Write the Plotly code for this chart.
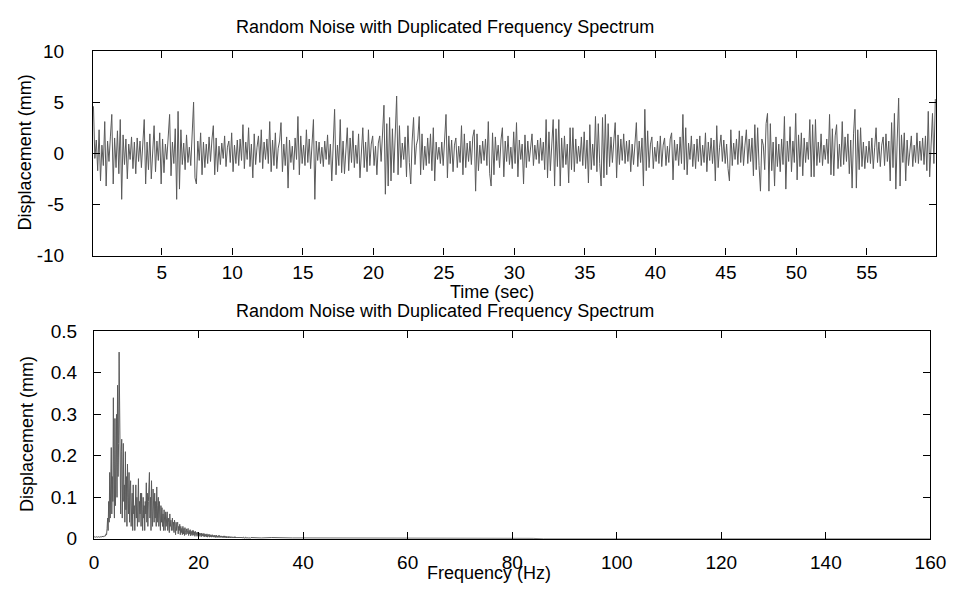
import numpy as np
import plotly.graph_objects as go

# ---------------- data ----------------
TITLE = "Random Noise with Duplicated Frequency Spectrum"

# time history: 10 samples per second starting at 0.15 s
T_START = 0.15
T_STEP = 0.1
DISPLACEMENT = [
    4.6, -0.5, 1.3, -1.7, 2.3, -2.7, 0.8, -1.2, 3.1, -3.2,
    1.2, -0.8, 1.6, 3.8, -3.0, 1.5, -1.4, 2.2, -2.0, 3.3,
    -4.5, 1.8, -1.1, 1.4, -2.5, 0.9, -0.6, 1.6, -1.5, 1.1,
    -2.0, 1.5, -0.8, 1.2, -1.4, 0.7, 3.3, -3.0, 1.1, -1.6,
    1.9, -2.5, 0.6, 2.7, -1.8, 1.2, -0.7, 2.0, -3.0, 1.4,
    -1.9, 0.9, -0.6, 1.4, 3.8, -2.2, 1.1, -1.0, 2.4, -4.5,
    4.1, -3.5, 2.3, -1.1, 1.0, -1.6, 1.8, -0.9, 0.6, -1.2,
    1.4, 5.0, -2.4, -3.0, 1.2, -0.7, 2.0, -2.1, 1.1, -1.4,
    0.9, -1.0, 1.6, -0.8, 1.3, 2.7, -2.1, 1.5, -1.8, 0.7,
    -1.1, 1.0, -0.5, 1.7, -1.3, 0.6, 1.2, -0.9, 2.0, -1.8,
    0.8, -1.0, 1.3, -1.2, 1.4, -0.7, 2.8, -1.5, 1.1, -0.6,
    2.5, -1.3, 0.9, -2.4, 1.9, -1.1, 0.6, 1.7, -0.9, 2.3,
    -1.5, 1.1, -0.6, 1.4, -1.0, 3.1, -1.8, 1.3, -1.2, 2.0,
    -1.5, 0.5, 1.2, 3.0, -1.8, 0.9, -1.2, 1.6, -3.4, 1.3,
    -0.9, 0.7, -1.6, 1.5, -0.6, 3.6, -2.1, 1.7, -1.0, 0.8,
    -1.2, 2.3, -0.9, 1.4, -1.5, 1.0, 3.3, -4.5, 1.2, -0.7,
    1.1, -1.0, 0.6, -1.3, 1.2, -0.6, 1.8, -1.1, 0.9, -2.7,
    1.4, 4.3, -2.1, 0.8, -1.2, 3.3, -1.9, 1.2, -2.0, 1.0,
    2.5, -1.7, 1.5, -0.9, 2.2, -1.4, 0.8, -1.0, 1.9, -2.4,
    0.6, 2.5, -1.4, 1.1, -1.8, 2.3, -1.2, 0.9, 1.7, -1.2,
    0.7, -2.1, 1.0, 1.7, -0.8, 1.5, 4.7, -4.0, 2.9, -3.2,
    3.5, -2.7, 2.4, -1.9, 1.3, 5.6, -2.1, 2.7, -1.4, 1.0,
    -0.6, 1.6, -2.3, 2.7, -0.9, -3.0, 1.2, 3.5, -1.1, 0.8,
    1.4, 3.6, -2.1, 1.9, -1.6, 0.7, -1.2, 1.5, -1.0, 1.9,
    -1.7, 2.5, -2.7, 1.1, -0.6, 0.6, -1.0, 1.1, -1.2, 0.9,
    3.8, -2.4, 1.7, -1.0, 1.3, -1.8, 0.8, 1.5, -1.4, 0.7,
    -0.9, 2.7, -2.1, 1.9, -1.4, 1.0, -0.8, 1.2, -1.1, 1.6,
    2.3, -3.7, 1.9, -1.7, 0.8, -1.0, 1.2, -0.7, 1.4, -1.2,
    3.1, -2.0, -3.2, 2.0, -2.1, 1.6, -0.7, 0.8, -1.4, 1.3,
    2.5, -2.3, 1.2, -0.8, 1.7, -1.1, 0.6, -1.5, 2.1, -1.0,
    3.0, -2.3, 1.3, -0.6, 0.9, -3.0, 1.8, -1.4, 1.2, -0.8,
    0.6, 1.9, -1.2, 0.8, -0.6, 1.3, -1.0, 1.5, -0.7, 1.1,
    -1.6, 3.3, -2.4, 2.1, -1.7, 1.0, 3.3, -3.2, 2.4, -1.3,
    3.3, -3.2, 1.5, -1.4, 1.7, -1.1, 0.9, -2.9, 2.5, -1.6,
    2.5, -1.8, 1.4, -1.0, 0.7, -0.8, 1.6, -1.2, 2.1, -1.5,
    1.3, -2.9, 2.8, -1.6, 0.9, -1.2, 3.6, -1.8, 2.9, -1.0,
    -3.2, 3.5, -2.4, 3.8, -2.1, 2.9, -1.3, 1.6, -0.9, 1.2,
    3.0, -2.4, 1.8, -1.1, 1.4, -0.7, 1.9, -1.0, 1.2, -0.8,
    1.3, -1.8, 0.9, -1.1, 1.6, 3.0, -1.3, 1.2, -0.9, 1.5,
    -3.2, 4.3, -1.7, 2.2, -1.4, 0.9, 1.6, -1.5, 0.6, -0.8,
    1.2, -1.0, 1.7, -1.3, 0.8, 1.5, -1.2, 0.7, -0.9, 1.4,
    2.0, -2.6, 1.3, -0.7, 0.9, -1.2, 1.6, -1.0, 3.8, -1.6,
    2.5, -2.1, 1.0, -0.6, 1.7, -1.3, 0.9, -1.5, 1.4, -0.8,
    1.7, -1.2, 0.8, -0.9, 2.0, -1.8, 1.1, -0.7, 1.5, -1.0,
    1.3, -2.7, 2.7, -1.4, 0.6, 1.8, -0.8, 1.3, -1.0, 0.9,
    -1.5, -2.7, 2.3, -1.2, 1.0, -0.6, 1.4, -1.1, 2.2, -0.9,
    1.7, -1.2, 0.8, 2.3, -1.0, 1.4, -0.8, 1.5, -2.2, 2.8,
    -1.6, 2.5, -1.2, -3.7, 1.4, 0.8, -1.6, 2.9, 3.9, -3.7,
    2.9, -1.7, 1.1, -3.2, 1.6, -1.3, 0.9, -1.8, 1.4, -1.1,
    3.6, -3.5, 1.2, -0.8, 2.6, -1.8, 1.2, -0.9, 3.9, -2.6,
    1.8, -1.3, 2.0, -2.2, 1.5, -0.9, 1.1, -0.6, 3.3, -2.3,
    2.8, -2.3, 3.3, -1.2, 1.1, -0.9, 1.9, -1.2, 0.8, -0.6,
    1.4, -1.0, 3.8, -2.1, 2.4, -2.2, 1.7, 2.8, -1.5, 0.9,
    -1.3, 3.1, -1.1, 1.6, -0.8, 1.9, -2.0, 1.3, -3.4, 1.9,
    4.3, -3.4, 2.3, -1.6, 2.5, -1.3, 1.1, -1.5, 0.7, -0.9,
    1.2, -1.0, 1.5, -1.5, 0.6, 2.5, -0.9, 1.1, -1.3, 0.8,
    1.6, -1.2, 1.9, -0.8, 1.2, -2.7, 3.0, -1.4, 3.9, -3.5,
    1.4, 5.4, -3.2, 1.8, -0.9, 2.0, -2.7, 1.3, -1.2, 0.7,
    1.7, -1.3, 0.8, -0.9, 2.0, -1.0, 1.2, -0.7, 1.5, -1.1,
    1.7, -1.7, 4.1, -2.3, 1.2, 3.9, -1.0, 5.3,
]

# spectrum: 0.1 Hz spacing from 0 to 29.9 Hz
F_STEP = 0.1
SPECTRUM = [
    0.005, 0.004, 0.005, 0.004, 0.005, 0.004, 0.005, 0.004, 0.005, 0.004,
    0.005, 0.004, 0.005, 0.005, 0.004, 0.006, 0.005, 0.006, 0.005, 0.007,
    0.006, 0.008, 0.007, 0.012, 0.010, 0.025, 0.050, 0.020, 0.090, 0.040,
    0.160, 0.050, 0.110, 0.220, 0.060, 0.150, 0.090, 0.340, 0.120, 0.050,
    0.290, 0.080, 0.180, 0.300, 0.100, 0.370, 0.150, 0.230, 0.450, 0.200,
    0.290, 0.060, 0.210, 0.240, 0.050, 0.170, 0.230, 0.090, 0.130, 0.040,
    0.210, 0.070, 0.150, 0.030, 0.180, 0.100, 0.060, 0.160, 0.040, 0.120,
    0.140, 0.030, 0.090, 0.110, 0.020, 0.130, 0.060, 0.080, 0.020, 0.120,
    0.130, 0.050, 0.100, 0.030, 0.120, 0.145, 0.040, 0.090, 0.060, 0.110,
    0.030, 0.110, 0.070, 0.020, 0.100, 0.050, 0.080, 0.020, 0.090, 0.060,
    0.135, 0.040, 0.110, 0.030, 0.090, 0.120, 0.160, 0.050, 0.100, 0.020,
    0.140, 0.060, 0.030, 0.120, 0.080, 0.040, 0.110, 0.050, 0.090, 0.030,
    0.125, 0.040, 0.080, 0.100, 0.030, 0.090, 0.050, 0.020, 0.080, 0.040,
    0.075, 0.030, 0.060, 0.020, 0.070, 0.040, 0.020, 0.065, 0.030, 0.050,
    0.065, 0.020, 0.050, 0.040, 0.015, 0.060, 0.030, 0.045, 0.020, 0.050,
    0.050, 0.020, 0.040, 0.015, 0.045, 0.030, 0.010, 0.040, 0.020, 0.035,
    0.040, 0.012, 0.030, 0.020, 0.035, 0.010, 0.030, 0.015, 0.025, 0.010,
    0.030, 0.012, 0.025, 0.008, 0.027, 0.015, 0.010, 0.024, 0.012, 0.020,
    0.025, 0.008, 0.020, 0.012, 0.022, 0.007, 0.018, 0.010, 0.020, 0.008,
    0.020, 0.009, 0.017, 0.006, 0.018, 0.010, 0.015, 0.006, 0.016, 0.008,
    0.016, 0.006, 0.014, 0.008, 0.013, 0.005, 0.014, 0.007, 0.012, 0.006,
    0.013, 0.005, 0.012, 0.006, 0.011, 0.005, 0.012, 0.004, 0.010, 0.006,
    0.011, 0.004, 0.010, 0.005, 0.009, 0.004, 0.010, 0.005, 0.008, 0.004,
    0.009, 0.004, 0.008, 0.003, 0.009, 0.004, 0.007, 0.003, 0.008, 0.004,
    0.008, 0.003, 0.007, 0.004, 0.007, 0.003, 0.006, 0.003, 0.007, 0.003,
    0.007, 0.003, 0.006, 0.002, 0.006, 0.003, 0.005, 0.002, 0.006, 0.003,
    0.005, 0.002, 0.005, 0.003, 0.005, 0.002, 0.004, 0.002, 0.005, 0.002,
    0.005, 0.002, 0.004, 0.002, 0.004, 0.002, 0.004, 0.002, 0.004, 0.002,
    0.004, 0.002, 0.004, 0.002, 0.003, 0.002, 0.004, 0.001, 0.003, 0.002,
    0.004, 0.001, 0.003, 0.002, 0.003, 0.001, 0.003, 0.002, 0.003, 0.001,
]
# tail of the spectrum, 2 Hz spacing from 30 to 160 Hz
TAIL_START = 30.0
TAIL_STEP = 2.0
SPECTRUM_TAIL = [
    0.003, 0.002, 0.003, 0.002, 0.002, 0.002, 0.002, 0.001, 0.002, 0.001,
    0.001, 0.001, 0.001, 0.001, 0.001, 0.001, 0.001, 0.001, 0.001, 0.001,
    0.001, 0.001, 0.001, 0.001, 0.001, 0.001, 0.001, 0.001, 0.000, 0.000,
    0.000, 0.000, 0.000, 0.000, 0.000, 0.000, 0.000, 0.000, 0.000, 0.000,
    0.000, 0.000, 0.000, 0.000, 0.000, 0.000, 0.000, 0.000, 0.000, 0.000,
    0.000, 0.000, 0.000, 0.000, 0.000, 0.000, 0.000, 0.000, 0.000, 0.000,
    0.000, 0.000, 0.000, 0.000, 0.000, 0.000,
]

TOP_X_TICKS = [5, 10, 15, 20, 25, 30, 35, 40, 45, 50, 55]
TOP_Y_TICKS = [-10, -5, 0, 5, 10]
BOT_X_TICKS = [0, 20, 40, 60, 80, 100, 120, 140, 160]
BOT_Y_TICKS = [0, 0.1, 0.2, 0.3, 0.4, 0.5]
BOT_Y_LABELS = ["0", "0.1", "0.2", "0.3", "0.4", "0.5"]

# ---------------- figure ----------------
W, H = 966, 600
FONT = "Liberation Sans, Arial, Helvetica, sans-serif"
FS = 18
TICK_FS = 19
LINE_COLOR = "#5a5a5a"

time = T_START + T_STEP * np.arange(len(DISPLACEMENT))
freq = F_STEP * np.arange(len(SPECTRUM))
freq_tail = TAIL_START + TAIL_STEP * np.arange(len(SPECTRUM_TAIL))
freq_all = np.concatenate([freq, freq_tail])
spec_all = list(SPECTRUM) + list(SPECTRUM_TAIL)

fig = go.Figure()
fig.add_trace(go.Scatter(x=time, y=DISPLACEMENT, mode="lines",
                         line=dict(color=LINE_COLOR, width=1),
                         xaxis="x", yaxis="y", showlegend=False))
fig.add_trace(go.Scatter(x=freq_all, y=spec_all, mode="lines",
                         line=dict(color=LINE_COLOR, width=1),
                         xaxis="x2", yaxis="y2", showlegend=False))


def px_x(p):
    return p / W


def px_y(p):
    return 1 - p / H


axis_common = dict(showline=True, linecolor="black", linewidth=1.2,
                   mirror="ticks", ticks="inside", ticklen=7,
                   tickcolor="black", tickwidth=1, showgrid=False,
                   zeroline=False,
                   tickfont=dict(family=FONT, size=TICK_FS, color="black"))

fig.update_layout(
    width=W, height=H,
    margin=dict(l=0, r=0, t=0, b=0),
    paper_bgcolor="white", plot_bgcolor="white",
    showlegend=False,
    xaxis=dict(domain=[px_x(90), px_x(952)], range=[0.12, 59.92],
               tickvals=TOP_X_TICKS, anchor="y", **axis_common),
    yaxis=dict(domain=[px_y(254.5), px_y(42.5)], range=[-10, 10],
               tickvals=TOP_Y_TICKS, ticktext=[str(v) for v in TOP_Y_TICKS],
               anchor="x", ticklabelstandoff=24, **axis_common),
    xaxis2=dict(domain=[px_x(91), px_x(946)], range=[0, 160],
                tickvals=BOT_X_TICKS, anchor="y2", ticklabelstandoff=6,
                **axis_common),
    yaxis2=dict(domain=[px_y(548), px_y(333)], range=[0, 0.5],
                tickvals=BOT_Y_TICKS, ticktext=BOT_Y_LABELS,
                anchor="x2", ticklabelstandoff=12, **axis_common),
)

ann_font = dict(family=FONT, size=FS, color="black")
annotations = [
    dict(text=TITLE, x=px_x(450), y=px_y(18)),
    dict(text=TITLE, x=px_x(450), y=px_y(312)),
    dict(text="Time (sec)", x=px_x(498), y=px_y(292)),
    dict(text="Frequency (Hz)", x=px_x(495), y=px_y(583)),
    dict(text="Displacement (mm)", x=px_x(20), y=px_y(148), textangle=-90),
    dict(text="Displacement (mm)", x=px_x(22), y=px_y(440), textangle=-90),
]
for a in annotations:
    a.update(xref="paper", yref="paper", xanchor="center", yanchor="middle",
             showarrow=False, font=ann_font)
fig.update_layout(annotations=annotations)

fig.write_html("out.html")
